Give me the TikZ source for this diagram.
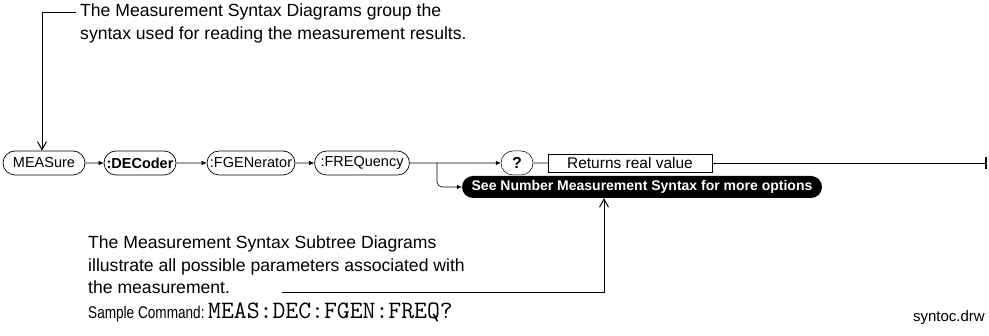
\documentclass[tikz,border=0pt]{standalone}
\usepackage{fontspec}
\usepackage{graphicx}
\setmainfont{Liberation Sans}
\usetikzlibrary{arrows.meta,shapes.misc,calc}
\begin{document}
\begin{tikzpicture}[x=1pt,y=1pt,
 kw/.style={rounded rectangle, draw, line width=0.7pt, minimum height=24pt, inner xsep=4pt, inner ysep=0pt, font=\fontsize{14.5}{14.5}\selectfont},
 conn/.style={line width=0.6pt},
 tip/.style={-{Latex[length=5pt,width=4.5pt]}},
 barb/.style={-{Straight Barb[length=8pt,width=9pt,line width=1pt]}},
 note/.style={align=left, font=\fontsize{17.6}{22.5}\selectfont, inner sep=0pt},
]
\useasboundingbox (0,0) rectangle (989,-336);
\node[kw, minimum width=90pt] (meas) at (44,-163) {MEASure};
\node[kw, minimum width=80pt, font=\fontsize{14.5}{14.5}\bfseries] (dec) at (140,-163) {:DECoder};
\node[kw, minimum width=96pt] (fgen) at (251,-163) {:FGENerator};
\node[kw, minimum width=94pt] (freq) at (362,-163) {:FREQuency};
\node[kw, minimum width=40pt, line width=0.5pt, font=\fontsize{16}{16}\bfseries] (q) at (517,-163) {?};
\node[draw, line width=0.5pt, minimum width=164pt, minimum height=18pt, inner sep=0pt, font=\fontsize{15.5}{15.5}\selectfont] (ret) at (630,-163) {Returns real value};
\coordinate (end) at (986,-163);
\coordinate (endt) at (986,-157);
\coordinate (endb) at (986,-169);
\draw[line width=2pt] (endt) -- (endb);
\draw[conn,tip] (meas) -- (dec);
\draw[conn,tip] (dec) -- (fgen);
\draw[conn,tip] (fgen) -- (freq);
\draw[conn,tip] (freq) -- (q);
\draw[conn] (q) -- (ret);
\draw[conn] (ret) -- (end);
\coordinate (br) at (437,-163);
\node[rounded rectangle, fill=black, text=white, minimum width=360pt, minimum height=22pt, inner sep=0pt, font=\fontsize{14}{14}\bfseries] (see) at (642,-187) {See Number Measurement Syntax for more options};
\draw[conn,tip,rounded corners=5pt] (br) |- (see);
\node[note, anchor=north west] (topnote) at (80,-4) {The Measurement Syntax Diagrams group the\\syntax used for reading the measurement results.};
\coordinate (tl) at (76,-12);
\coordinate (tc) at (42,-12);
\draw[conn,barb] (tl) -- (tc) -- (tc |- meas.north);
\node[note, anchor=north west] (botnote) at (88,-236) {The Measurement Syntax Subtree Diagrams\\illustrate all possible parameters associated with\\the measurement.};
\node[anchor=base west, inner sep=0pt, font=\fontsize{17}{17}\selectfont] (samp) at (88,-319) {\scalebox{0.8}[1]{Sample Command:}};
\node[anchor=base west, inner sep=0pt, font=\ttfamily\fontsize{25}{25}\selectfont] (cmd) at (208,-319) {MEAS:DEC:FGEN:FREQ?};
\coordinate (bl) at (282,-292);
\coordinate (bc) at (604,-292);
\draw[conn,barb] (bl) -- (bc) -- (bc |- see.south);
\node[anchor=base east, font=\fontsize{15}{15}\selectfont, inner sep=0pt] (file) at (985,-322) {syntoc.drw};
\end{tikzpicture}
\end{document}
